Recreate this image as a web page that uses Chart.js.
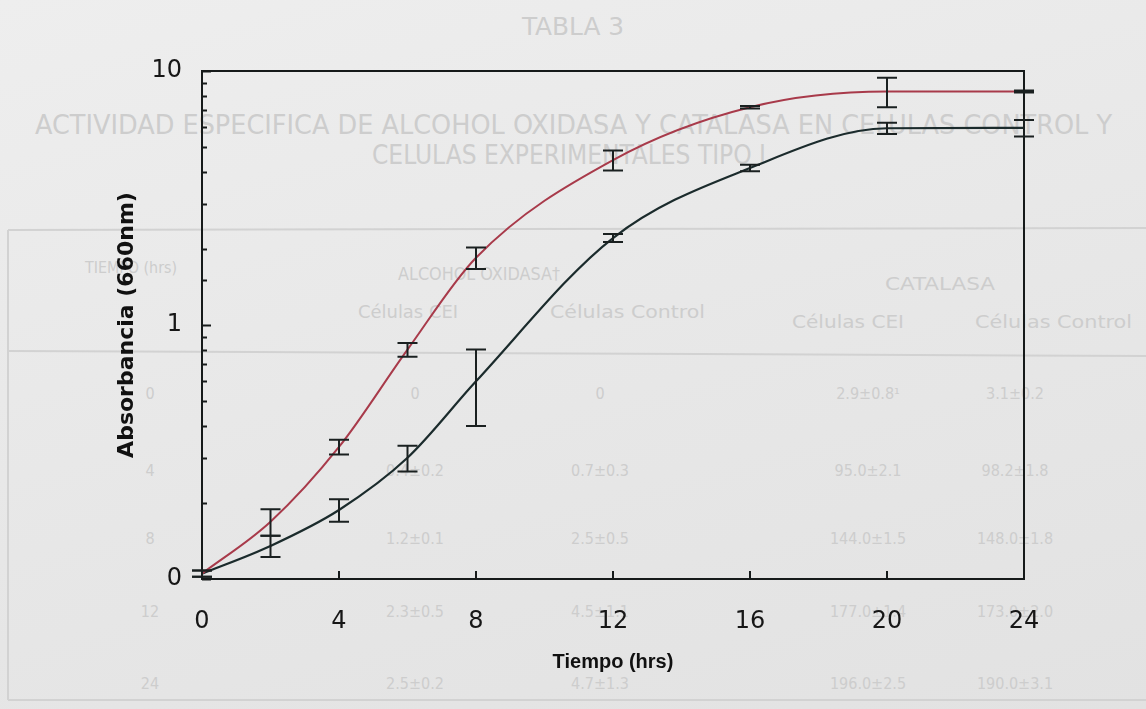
<!DOCTYPE html>
<meta charset="utf-8">
<style>
	body { margin: 0; width: 1146px; height: 709px; overflow: hidden; position: relative;
		background: linear-gradient(165deg, #eeeeee 0%, #e7e7e7 55%, #e2e2e2 100%); }
	#page, #wrap { position: absolute; left: 0; top: 0; }
	#wrap { width: 1146px; height: 709px; }
</style>
<body>

	<svg id="page" width="1146" height="709"></svg>
	<div id="wrap"><canvas id="growthChart"></canvas></div>

	<script src="https://cdn.jsdelivr.net/npm/chart.js"></script>
	<script>
		// curve data (hours, absorbance at 660nm, +/- sd)
		var times = [0, 2, 4, 6, 8, 12, 16, 20, 24];
		var cellsCEI = [0.105, 0.168, 0.331, 0.80, 1.84, 4.46, 7.2, 8.3, 8.3];
		var cellsCEIsd = [0.003, 0.02, 0.022, 0.05, 0.18, 0.4, 0.08, 1.1, 0.08];
		var cellsControl = [0.105, 0.135, 0.187, 0.30, 0.60, 2.2, 4.15, 5.95, 5.97];
		var cellsControlSd = [0.003, 0.013, 0.019, 0.035, 0.2, 0.08, 0.12, 0.3, 0.45];
		var xTicks = [0, 4, 8, 12, 16, 20, 24];

		// faded table printed underneath the graph
		var tableHead = ["TIEMPO (hrs)", "ALCOHOL OXIDASA\u2020", "CATALASA", "C\u00e9lulas CEI", "C\u00e9lulas Control", "C\u00e9lulas CEI", "C\u00e9lulas Control"];
		var tableRows = [
			["0", "0", "0", "2.9\u00b10.8\u00b9", "3.1\u00b10.2"],
			["4", "0.4\u00b10.2", "0.7\u00b10.3", "95.0\u00b12.1", "98.2\u00b11.8"],
			["8", "1.2\u00b10.1", "2.5\u00b10.5", "144.0\u00b11.5", "148.0\u00b11.8"],
			["12", "2.3\u00b10.5", "4.5\u00b11.1", "177.0\u00b11.4", "173.0\u00b12.0"],
			["24", "2.5\u00b10.2", "4.7\u00b11.3", "196.0\u00b12.5", "190.0\u00b13.1"]
		];

		var svg = document.getElementById("page");
		var NS = "http://www.w3.org/2000/svg";
		var faded = "#cdcdcd";

		function txt(s, x, y, size, anchor, len) {
			var t = document.createElementNS(NS, "text");
			t.setAttribute("x", x);
			t.setAttribute("y", y);
			t.setAttribute("font-size", size);
			t.setAttribute("font-family", "DejaVu Sans Condensed, DejaVu Sans, sans-serif");
			t.setAttribute("fill", faded);
			t.setAttribute("text-anchor", anchor || "start");
			if (len) {
				t.setAttribute("textLength", len);
				t.setAttribute("lengthAdjust", "spacingAndGlyphs");
			}
			t.textContent = s;
			svg.appendChild(t);
		}
		function line(x1, y1, x2, y2) {
			var l = document.createElementNS(NS, "line");
			l.setAttribute("x1", x1); l.setAttribute("y1", y1);
			l.setAttribute("x2", x2); l.setAttribute("y2", y2);
			l.setAttribute("stroke", "#d2d2d2");
			l.setAttribute("stroke-width", 2);
			svg.appendChild(l);
		}

		txt("TABLA 3", 522, 35, 24, "start", 102);
		txt("ACTIVIDAD ESPECIFICA DE ALCOHOL OXIDASA Y CATALASA EN CELULAS CONTROL Y", 35, 134, 26, "start", 1077);
		txt("CELULAS EXPERIMENTALES TIPO I", 372, 164, 26, "start", 394);

		line(8, 230, 1146, 228);
		line(8, 230, 8, 700);
		line(8, 351, 1146, 356);
		line(8, 700, 1146, 700);

		txt(tableHead[0], 85, 273, 16, "start", 92);
		txt(tableHead[1], 398, 280, 17, "start", 162);
		txt(tableHead[2], 885, 290, 17, "start", 110);
		txt(tableHead[3], 358, 318, 17, "start", 100);
		txt(tableHead[4], 550, 318, 17, "start", 155);
		txt(tableHead[5], 792, 328, 17, "start", 112);
		txt(tableHead[6], 975, 328, 17, "start", 157);

		var rowY = [399, 476, 544, 617, 689];
		var colX = [150, 415, 600, 868, 1015];
		tableRows.forEach(function(r, i) {
			r.forEach(function(s, j) {
				txt(s, colX[j], rowY[i], 16, "middle");
			});
		});

		// draws the plot frame, the inward tick marks and the error bars
		var plotExtras = {
			id: "plotExtras",
			afterDraw: function(chart) {
				var ctx = chart.ctx;
				var area = chart.chartArea;
				var xs = chart.scales.x;
				var ys = chart.scales.y;
				ctx.save();
				ctx.strokeStyle = "#161a1a";
				ctx.lineWidth = 2;

				ys.ticks.forEach(function(t) {
					var p = Math.round(ys.getPixelForValue(t.value)) + 0.5;
					var lg = Math.log10(t.value);
					var len = Math.abs(lg - Math.round(lg)) < 1e-6 ? 9 : 5;
					ctx.beginPath();
					ctx.moveTo(area.left, p);
					ctx.lineTo(area.left + len, p);
					ctx.stroke();
				});
				xTicks.forEach(function(v) {
					var p = xs.getPixelForValue(v);
					ctx.beginPath();
					ctx.moveTo(p, area.bottom);
					ctx.lineTo(p, area.bottom - 8);
					ctx.stroke();
				});

				ctx.strokeRect(area.left, area.top, area.right - area.left, area.bottom - area.top);

				var sets = [[cellsCEI, cellsCEIsd], [cellsControl, cellsControlSd]];
				ctx.strokeStyle = "#1a2020";
				sets.forEach(function(s) {
					times.forEach(function(t, i) {
						var x = xs.getPixelForValue(t);
						var yt = ys.getPixelForValue(s[0][i] + s[1][i]);
						var yb = ys.getPixelForValue(s[0][i] - s[1][i]);
						ctx.beginPath();
						ctx.moveTo(x, yt); ctx.lineTo(x, yb);
						ctx.moveTo(x - 10, yt); ctx.lineTo(x + 10, yt);
						ctx.moveTo(x - 10, yb); ctx.lineTo(x + 10, yb);
						ctx.stroke();
					});
				});
				ctx.restore();
			}
		};

		var ctxGrowth = document.getElementById("growthChart");

		var growthChart = new Chart(ctxGrowth, {
			type: "line",
			data: {
				datasets: [{
					label: "C\u00e9lulas CEI",
					data: times.map(function(t, i) { return { x: t, y: cellsCEI[i] }; }),
					borderColor: "#a83a4a",
					borderWidth: 2,
					pointRadius: 0,
					cubicInterpolationMode: "monotone",
					fill: false
				}, {
					label: "C\u00e9lulas Control",
					data: times.map(function(t, i) { return { x: t, y: cellsControl[i] }; }),
					borderColor: "#1b2b2c",
					borderWidth: 2.2,
					pointRadius: 0,
					cubicInterpolationMode: "monotone",
					fill: false
				}]
			},
			options: {
				responsive: true,
				maintainAspectRatio: false,
				animation: false,
				layout: { padding: { top: 71, right: 122, left: 0, bottom: 0 } },
				plugins: { legend: { display: false }, tooltip: { enabled: false } },
				scales: {
					x: {
						type: "linear",
						min: 0,
						max: 24,
						afterFit: function(s) { s.height = 130; },
						afterBuildTicks: function(s) { s.ticks = xTicks.map(function(v) { return { value: v }; }); },
						grid: { display: false, drawTicks: false },
						border: { display: false },
						ticks: { padding: 28, color: "#161616", font: { family: "DejaVu Sans", size: 24 } },
						title: {
							display: true,
							text: "Tiempo (hrs)",
							color: "#111",
							font: { family: "Liberation Sans", size: 20, weight: "bold" },
							padding: { top: 0, bottom: 35 }
						}
					},
					y: {
						type: "logarithmic",
						min: 0.1,
						max: 10,
						afterFit: function(s) { s.width = 202; },
						grid: { display: false, drawTicks: false },
						border: { display: false },
						ticks: {
							autoSkip: false,
							padding: 20,
							color: "#161616",
							font: { family: "DejaVu Sans", size: 24 },
							callback: function(v) {
								var lg = Math.round(Math.log10(v) * 1000) / 1000;
								if (lg === 1) return "10";
								if (lg === 0) return "1";
								if (lg === -1) return "0";
								return "";
							}
						},
						title: {
							display: true,
							text: "Absorbancia (660nm)",
							color: "#111",
							font: { family: "DejaVu Sans", size: 22, weight: "bold" },
							padding: { top: 114, bottom: 0 }
						}
					}
				}
			},
			plugins: [plotExtras]
		});
	</script>
</body>
